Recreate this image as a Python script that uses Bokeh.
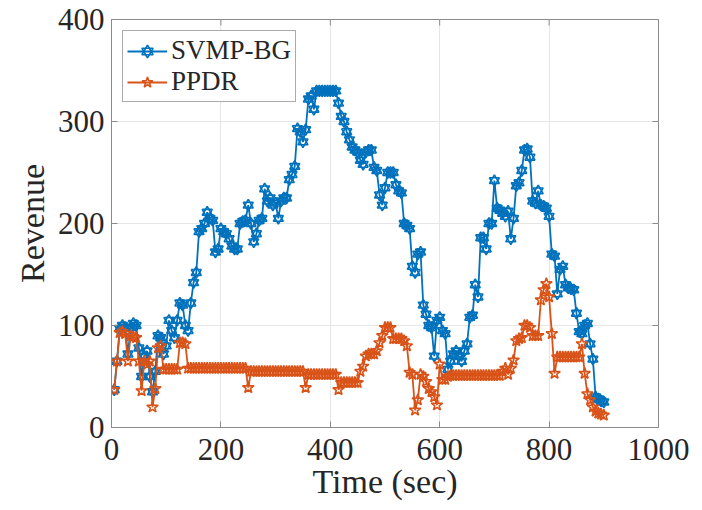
from bokeh.plotting import figure
from bokeh.models import Range1d, FixedTicker, Legend, LegendItem, ColumnDataSource
from bokeh.embed import file_html
from bokeh.resources import INLINE

# ---------------- data ----------------
time_sec = list(range(5, 905, 5))

svmp_bg = [
    37, 65, 97, 100, 98, 72, 98, 102, 100, 78,
    50, 70, 75, 50, 35, 55, 90, 88, 72, 80,
    105, 95, 88, 105, 122, 120, 100, 95, 122, 142,
    152, 192, 195, 200, 211, 205, 203, 172, 175, 195,
    192, 190, 185, 178, 175, 175, 200, 202, 203, 218,
    200, 182, 190, 203, 205, 234, 222, 225, 218, 220,
    205, 222, 225, 225, 243, 248, 256, 293, 290, 280,
    292, 322, 325, 312, 330, 330, 330, 330, 330, 330,
    330, 330, 318, 305, 300, 290, 282, 275, 272, 270,
    262, 258, 270, 272, 272, 255, 252, 228, 218, 235,
    250, 250, 250, 238, 232, 230, 200, 198, 195, 158,
    152, 170, 172, 120, 111, 100, 98, 70, 105, 108,
    95, 92, 57, 65, 72, 75, 70, 65, 75, 82,
    108, 110, 140, 128, 186, 186, 175, 200, 200, 242,
    215, 213, 210, 207, 212, 185, 205, 237, 240, 252,
    272, 273, 265, 222, 220, 232, 218, 217, 215, 207,
    170, 168, 131, 155, 158, 140, 137, 136, 135, 112,
    94, 92, 100, 102, 82, 67, 30, 28, 26, 25,
]

ppdr = [
    37, 65, 93, 94, 92, 65, 90, 89, 88, 65,
    36, 65, 62, 65, 20, 38, 78, 80, 57, 57,
    57, 57, 57, 57, 83, 83, 82, 58, 58, 58,
    58, 58, 58, 58, 58, 58, 58, 58, 58, 58,
    58, 58, 58, 58, 58, 58, 58, 58, 58, 39,
    55, 55, 55, 55, 55, 55, 55, 55, 55, 55,
    55, 55, 55, 55, 55, 55, 55, 55, 55, 55,
    39, 52, 52, 52, 52, 52, 52, 52, 52, 52,
    52, 52, 37, 44, 44, 44, 44, 44, 44, 44,
    55, 60, 70, 72, 72, 72, 75, 83, 90, 98,
    98, 98, 87, 87, 87, 87, 85, 80, 54, 52,
    17, 27, 52, 50, 45, 38, 35, 30, 22, 62,
    47, 47, 50, 51, 51, 51, 51, 51, 51, 51,
    51, 51, 51, 51, 51, 51, 51, 51, 51, 51,
    51, 51, 55, 58, 52, 58, 66, 85, 87, 88,
    100, 100, 98, 90, 90, 90, 125, 135, 141, 128,
    92, 53, 69, 69, 69, 69, 69, 69, 69, 69,
    69, 82, 53, 33, 27, 20, 16, 14, 13, 12,
]

x_ticks = [0, 200, 400, 600, 800, 1000]
y_ticks = [0, 100, 200, 300, 400]
series_names = ["SVMP-BG", "PPDR"]
x_label = "Time (sec)"
y_label = "Revenue"

BLUE = "#0072BD"
ORANGE = "#D95319"
FONT = "Liberation Serif"
AXIS_GRAY = "#8a8a8a"
TEXT = "#262626"

X0, X1 = x_ticks[0], x_ticks[-1]
Y0, Y1 = y_ticks[0], y_ticks[-1]

W, H = 700, 508
BL, BT = 111, 19
FRAME_W, FRAME_H = 547, 408
BR = W - BL - FRAME_W
BB = H - BT - FRAME_H

src = ColumnDataSource(dict(t=time_sec, svmp=svmp_bg, ppdr=ppdr))

p = figure(width=W, height=H, output_backend="svg", toolbar_location=None,
           x_range=Range1d(X0, X1), y_range=Range1d(Y0, Y1),
           min_border_left=BL, min_border_right=BR, min_border_top=BT, min_border_bottom=BB)
p.background_fill_color = "white"
p.border_fill_color = "white"
p.outline_line_color = AXIS_GRAY
p.outline_line_width = 1

# grid
p.xgrid.ticker = FixedTicker(ticks=x_ticks)
p.ygrid.ticker = FixedTicker(ticks=y_ticks)
p.grid.grid_line_color = "#e6e6e6"
p.grid.grid_line_width = 1

# inward ticks on top and right edges of the box (derived from tick lists)
tick_px = 6
dy = (Y1 - Y0) * tick_px / FRAME_H
dx = (X1 - X0) * tick_px / FRAME_W
p.segment(x0=x_ticks, y0=[Y1] * len(x_ticks), x1=x_ticks, y1=[Y1 - dy] * len(x_ticks),
          line_color=AXIS_GRAY, line_width=1)
p.segment(x0=[X1] * len(y_ticks), y0=y_ticks, x1=[X1 - dx] * len(y_ticks), y1=y_ticks,
          line_color=AXIS_GRAY, line_width=1)

# series 1: line + hexagram markers (two overlaid triangles)
l1 = p.line("t", "svmp", source=src, line_color=BLUE, line_width=1.8)
m1a = p.scatter("t", "svmp", source=src, marker="triangle", size=10,
                line_color=BLUE, line_width=1.6, fill_color=None)
m1b = p.scatter("t", "svmp", source=src, marker="inverted_triangle", size=10,
                line_color=BLUE, line_width=1.6, fill_color=None)

# series 2: line + pentagram markers
l2 = p.line("t", "ppdr", source=src, line_color=ORANGE, line_width=1.8)
m2 = p.scatter("t", "ppdr", source=src, marker="star", size=12,
               line_color=ORANGE, line_width=1.6, fill_color=None)

# axes
for ax in (p.xaxis[0], p.yaxis[0]):
    ax.major_label_text_font = FONT
    ax.major_label_text_font_size = "31px"
    ax.major_label_text_color = TEXT
    ax.axis_label_text_font = FONT
    ax.axis_label_text_font_size = "34px"
    ax.axis_label_text_font_style = "normal"
    ax.axis_label_text_color = TEXT
    ax.axis_line_color = AXIS_GRAY
    ax.major_tick_line_color = AXIS_GRAY
    ax.major_tick_in = tick_px
    ax.major_tick_out = 0
    ax.minor_tick_line_color = None

p.xaxis[0].ticker = FixedTicker(ticks=x_ticks)
p.yaxis[0].ticker = FixedTicker(ticks=y_ticks)
p.xaxis[0].axis_label = x_label
p.yaxis[0].axis_label = y_label
p.xaxis[0].major_label_standoff = 11
p.xaxis[0].axis_label_standoff = 0
p.yaxis[0].major_label_standoff = 7
p.yaxis[0].axis_label_standoff = 4

legend = Legend(items=[
    LegendItem(label=series_names[0], renderers=[l1, m1a, m1b]),
    LegendItem(label=series_names[1], renderers=[l2, m2]),
])
legend.location = "top_left"
legend.margin = 11
legend.padding = 4
legend.spacing = 0
legend.label_text_font = FONT
legend.label_text_font_size = "27px"
legend.label_text_color = TEXT
legend.label_standoff = 4
legend.label_height = 28
legend.glyph_width = 40
legend.glyph_height = 28
legend.border_line_color = "#555555"
legend.border_line_width = 1
legend.background_fill_color = "white"
legend.background_fill_alpha = 1.0
p.add_layout(legend, "center")

open("out.html", "w").write(file_html(p, INLINE))
